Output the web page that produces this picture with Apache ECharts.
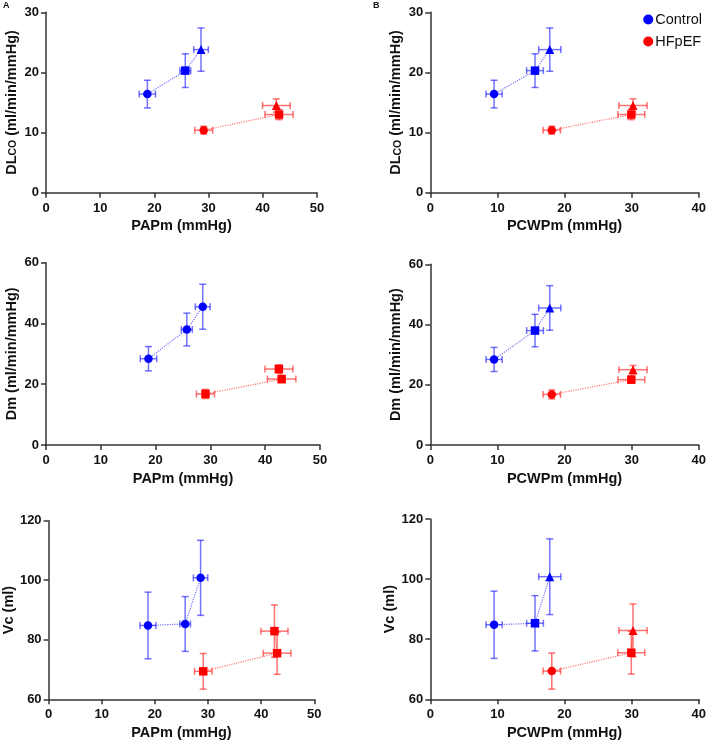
<!DOCTYPE html>
<html>
<head>
<meta charset="utf-8">
<script src="https://cdn.jsdelivr.net/npm/echarts@6/dist/echarts.min.js"></script>
<style>
html,body{margin:0;padding:0;background:#fff;}
#chart{width:709px;height:742px;}
</style>
</head>
<body>
<div id="chart"></div>
<script>
// ---- Data ----
const groups = ['Control', 'HFpEF'];
// PAPm (mmHg): mean and SEM
const papmControl = [18.7, 25.7, 28.6];
const papmControlErr = [1.5, 1.0, 1.35];
const papmHFpEF = [29.1, 43.0, 42.5];
const papmHFpEFErr = [1.65, 2.6, 2.55];
// PCWPm (mmHg)
const pcwpControl = [9.5, 15.6, 17.8];
const pcwpControlErr = [1.2, 1.25, 1.65];
const pcwpHFpEF = [18.1, 29.95, 30.2];
const pcwpHFpEFErr = [1.3, 2.0, 2.1];
// DLCO (ml/min/mmHg)
const dlcoControl = [16.4, 20.3, 23.8];
const dlcoControlErr = [2.3, 2.8, 3.6];
const dlcoHFpEF = [10.4, 13.0, 14.5];
const dlcoHFpEFErr = [0.65, 0.85, 1.1];
// Dm (ml/min/mmHg)
const dmControl = [28.4, 38.0, 45.5];
const dmControlErr = [4.0, 5.4, 7.4];
const dmHFpEF = [16.8, 21.7, 25.0];
const dmHFpEFErr = [1.5, 1.2, 1.4];
// Vc (ml)
const vcControl = [84.8, 85.3, 100.8];
const vcControlErr = [11.2, 9.2, 12.6];
const vcHFpEF = [69.4, 75.5, 82.9];
const vcHFpEFErr = [6.0, 7.1, 8.8];
// Axis tick setup
const papmTicks = {min: 0, max: 50, interval: 10};
const pcwpTicks = {min: 0, max: 40, interval: 10};
const dlcoTicks = {min: 0, max: 30, interval: 10};
const dmTicks = {min: 0, max: 60, interval: 20};
const vcTicks = {min: 60, max: 120, interval: 20};
const panelLetters = ['A', 'B'];

// ---- Styling / layout ----
const colors = {Control: '#0000ff', HFpEF: '#ff0000'};
const tri = ['circle', 'rect', 'triangle'];
const circ = ['circle', 'circle', 'circle'];
const sq = ['rect', 'rect', 'rect'];

const panels = [
  {grid: {left: 46, top: 12.3, width: 271, height: 180.4}, x: 'papm', y: 'dlco', sym: [tri, tri]},
  {grid: {left: 430.3, top: 12.3, width: 270.7, height: 180.4}, x: 'pcwp', y: 'dlco', sym: [tri, tri]},
  {grid: {left: 46, top: 262.7, width: 274, height: 182.3}, x: 'papm', y: 'dm', sym: [circ, sq]},
  {grid: {left: 430.3, top: 264.3, width: 270.7, height: 180.7}, x: 'pcwp', y: 'dm', sym: [tri, tri]},
  {grid: {left: 46, top: 520.7, width: 268.3, height: 178.6}, x: 'papm', y: 'vc', sym: [circ, sq]},
  {grid: {left: 430.3, top: 519, width: 270.7, height: 180.3}, x: 'pcwp', y: 'vc', sym: [tri, tri]}
];

const xData = {
  papm: {Control: [papmControl, papmControlErr], HFpEF: [papmHFpEF, papmHFpEFErr], ticks: papmTicks, name: 'PAPm (mmHg)'},
  pcwp: {Control: [pcwpControl, pcwpControlErr], HFpEF: [pcwpHFpEF, pcwpHFpEFErr], ticks: pcwpTicks, name: 'PCWPm (mmHg)'}
};
const yData = {
  dlco: {Control: [dlcoControl, dlcoControlErr], HFpEF: [dlcoHFpEF, dlcoHFpEFErr], ticks: dlcoTicks, name: '{m|DL}{s|CO}{m| (ml/min/mmHg)}'},
  dm: {Control: [dmControl, dmControlErr], HFpEF: [dmHFpEF, dmHFpEFErr], ticks: dmTicks, name: '{m|Dm (ml/min/mmHg)}'},
  vc: {Control: [vcControl, vcControlErr], HFpEF: [vcHFpEF, vcHFpEFErr], ticks: vcTicks, name: '{m|Vc (ml)}'}
};

const font = 'Liberation Sans, Arial, Helvetica, sans-serif';
const axisColor = '#333333';
const titleSize = 14.5;
const tickSize = 13;

const grids = [], xAxes = [], yAxes = [], series = [];

function hexA(hex, a) {
  const r = parseInt(hex.slice(1, 3), 16), g = parseInt(hex.slice(3, 5), 16), b = parseInt(hex.slice(5, 7), 16);
  return 'rgba(' + r + ',' + g + ',' + b + ',' + a + ')';
}

function errRender(params, api) {
  const x = api.value(0), y = api.value(1), xe = api.value(2), ye = api.value(3);
  const c = api.coord([x, y]);
  const l = api.coord([x - xe, y]), r = api.coord([x + xe, y]);
  const t = api.coord([x, y + ye]), b = api.coord([x, y - ye]);
  const cap = 3.5;
  const st = {stroke: params.seriesName === 'errControl' ? hexA(colors.Control, 0.55) : hexA(colors.HFpEF, 0.55), lineWidth: 1.5};
  const lines = [
    [l[0], c[1], r[0], c[1]],
    [l[0], c[1] - cap, l[0], c[1] + cap],
    [r[0], c[1] - cap, r[0], c[1] + cap],
    [c[0], t[1], c[0], b[1]],
    [c[0] - cap, t[1], c[0] + cap, t[1]],
    [c[0] - cap, b[1], c[0] + cap, b[1]]
  ];
  return {
    type: 'group',
    children: lines.map(p => ({type: 'line', shape: {x1: p[0], y1: p[1], x2: p[2], y2: p[3]}, style: st}))
  };
}

panels.forEach((p, i) => {
  grids.push(Object.assign({containLabel: false}, p.grid));
  const xd = xData[p.x], yd = yData[p.y];
  xAxes.push({
    type: 'value', gridIndex: i, min: xd.ticks.min, max: xd.ticks.max, interval: xd.ticks.interval,
    name: xd.name, nameLocation: 'middle', nameGap: 26,
    nameTextStyle: {fontFamily: font, fontWeight: 'bold', fontSize: titleSize, color: '#111'},
    axisLine: {show: true, onZero: false, lineStyle: {color: axisColor, width: 1.5}},
    axisTick: {show: true, length: 5, lineStyle: {color: axisColor, width: 1.5}},
    axisLabel: {fontFamily: font, fontWeight: 'bold', fontSize: tickSize, color: '#111', margin: 9},
    splitLine: {show: false}
  });
  yAxes.push({
    type: 'value', gridIndex: i, min: yd.ticks.min, max: yd.ticks.max, interval: yd.ticks.interval,
    name: yd.name, nameLocation: 'middle', nameGap: 27, nameRotate: 90,
    nameTextStyle: {
      fontFamily: font, fontWeight: 'bold', fontSize: titleSize, color: '#111',
      rich: {
        m: {fontFamily: font, fontWeight: 'bold', fontSize: titleSize, color: '#111', verticalAlign: 'bottom', lineHeight: 17},
        s: {fontFamily: font, fontWeight: 'bold', fontSize: 10.5, color: '#111', verticalAlign: 'bottom', lineHeight: 17, padding: [5, 0, 0, 0]}
      }
    },
    axisLine: {show: true, onZero: false, lineStyle: {color: axisColor, width: 1.5}},
    axisTick: {show: true, length: 5, lineStyle: {color: axisColor, width: 1.5}},
    axisLabel: {fontFamily: font, fontWeight: 'bold', fontSize: tickSize, color: '#111', margin: 7},
    splitLine: {show: false}
  });
  groups.forEach((g, gi) => {
    const xs = xd[g][0], xe = xd[g][1], ys = yd[g][0], ye = yd[g][1];
    const syms = p.sym[gi];
    series.push({
      type: 'custom', name: 'err' + g, xAxisIndex: i, yAxisIndex: i,
      renderItem: errRender, z: 2, silent: true,
      data: xs.map((v, k) => [v, ys[k], xe[k], ye[k]])
    });
    series.push({
      type: 'line', name: g, xAxisIndex: i, yAxisIndex: i, z: 3,
      color: colors[g],
      lineStyle: {type: 'dotted', width: 1.2, color: hexA(colors[g], 0.55)},
      itemStyle: {color: colors[g], opacity: 1},
      data: xs.map((v, k) => ({
        value: [v, ys[k]], symbol: syms[k],
        symbolSize: syms[k] === 'triangle' ? 9 : 8.5
      })),
      showAllSymbol: true, animation: false
    });
  });
});

const chart = echarts.init(document.getElementById('chart'), null, {renderer: 'canvas'});
chart.setOption({
  backgroundColor: '#ffffff',
  animation: false,
  grid: grids,
  xAxis: xAxes,
  yAxis: yAxes,
  series: series,
  legend: {
    data: groups, orient: 'vertical', right: 2, top: 7,
    icon: 'circle', itemWidth: 10, itemHeight: 10, itemGap: 7,
    textStyle: {fontFamily: font, fontSize: 14.5, color: '#111', padding: [0, 0, 0, -3]}
  },
  graphic: [
    {type: 'text', left: 3, top: 1, style: {text: panelLetters[0], font: 'bold 9px ' + font, fill: '#111'}},
    {type: 'text', left: 373, top: 1, style: {text: panelLetters[1], font: 'bold 9px ' + font, fill: '#111'}}
  ]
});
</script>
</body>
</html>
